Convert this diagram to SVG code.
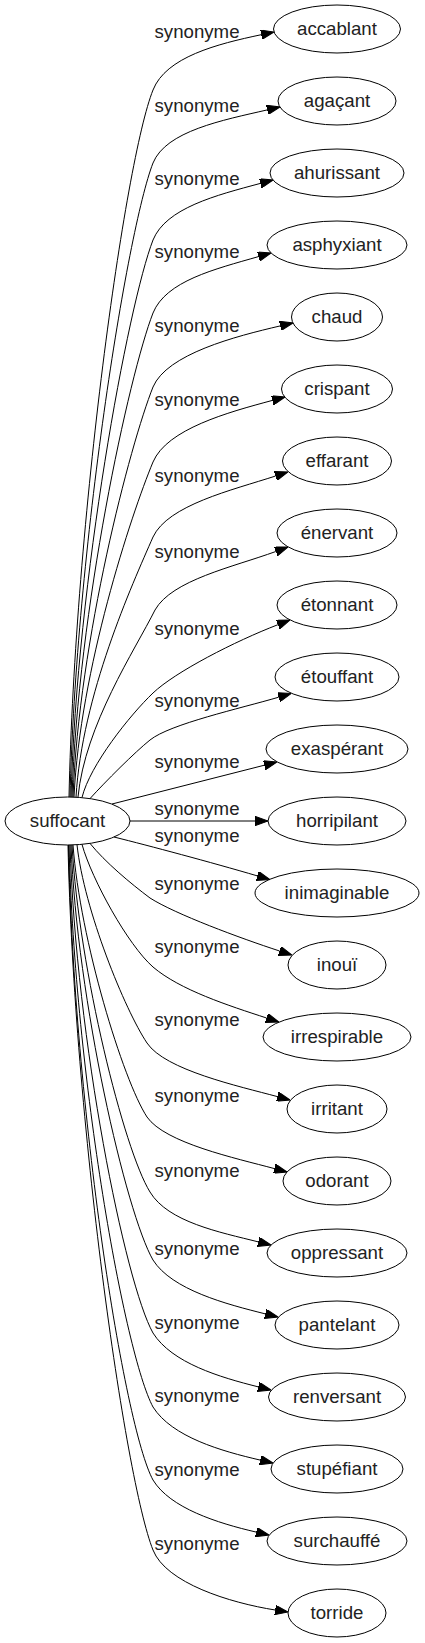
<svg xmlns="http://www.w3.org/2000/svg" width="425" height="1643" viewBox="0 0 425 1643">
<style>
  .bg { fill: #ffffff; }
  .node ellipse { fill: none; stroke: #000; stroke-width: 1; }
  .node text { font-family: "Liberation Sans", Arial, sans-serif; font-size: 18.67px; fill: #222; text-anchor: middle; }
  .edges path { fill: none; stroke: #000; stroke-width: 1; marker-end: url(#arr); }
  .lbl text { font-family: "Liberation Sans", Arial, sans-serif; font-size: 18.67px; fill: #222; text-anchor: middle; }
</style>
<defs>
  <marker id="arr" markerUnits="userSpaceOnUse" markerWidth="13" markerHeight="9.4" viewBox="0 0 13 9.4" refX="0" refY="4.7" orient="auto">
    <path d="M0,0 L13,4.7 L0,9.4 z" fill="#000" stroke="#000" stroke-width="1"/>
  </marker>
</defs>
<rect class="bg" x="0" y="0" width="425" height="1643"/>

<g id="connectors" class="edges">
  <path d="M69,797 C75,520 125,160 153,90 C166,57 217,44 261.3,34.7"/>
  <path d="M70,797 C76,550 127,230 153,163 C166,131 222.5,120.2 267.3,109.9"/>
  <path d="M71,797 C77,580 128,305 153,240 C166,208 216,195.3 260.4,183.4"/>
  <path d="M72,797 C78,610 129,375 153,313 C166,281 214.3,269.3 258.5,256.6"/>
  <path d="M73,797 C79,640 130,445 153,387 C167,354 235.5,336.3 280.3,325.9"/>
  <path d="M74,797 C80,670 131,515 153,462 C167,429 228,412.3 272.4,400.4"/>
  <path d="M76,797 C82,695 132,585 153,537 C168,505 231.9,490.2 275.6,476"/>
  <path d="M78,797 C85,725 135,650 155,610 C172,580 232.6,567.2 275.8,551.5"/>
  <path d="M82,797.5 C90,765 130,715 153,693 C175,672 235,641.2 277.9,624.7"/>
  <path d="M90,798.6 C105,782 135,752 150,740 C170,724 240,708.5 278.7,697.2"/>
  <path d="M112,804 L264.4,765.2"/>
  <path d="M130,821 L255,821"/>
  <path d="M114,837 C150,846 210,862 257.4,875.9"/>
  <path d="M90,843.4 C105,862 130,883 150,898 C175,914 240,938.1 279.6,951"/>
  <path d="M82,844.4 C92,880 128,945 153,967 C180,990 228.6,1005.6 266.6,1018"/>
  <path d="M77,844.7 C84,910 125,1010 147,1043 C165,1070 238.8,1086.2 277.4,1096.6"/>
  <path d="M73,844.9 C80,940 123,1080 147,1117 C165,1143 235.8,1158.2 274.4,1168.6"/>
  <path d="M72,845 C79,970 124,1150 150,1192 C168,1222 219.6,1232.2 258.4,1241.9"/>
  <path d="M71,845 C77,1000 126,1213 153,1260 C172,1290 226.6,1304.2 265.4,1313.9"/>
  <path d="M70,845 C76,1040 125,1283 153,1333 C172,1363 219.6,1377.2 258.4,1386.9"/>
  <path d="M69,845 C75,1080 125,1355 153,1407 C172,1437 221.3,1451.1 260.3,1460.1"/>
  <path d="M68.5,845 C74,1110 124,1427 153,1480 C170,1508 217.3,1523.1 256.3,1532.1"/>
  <path d="M68,845 C74,1120 125,1480 153,1550 C166,1583 229.7,1602.8 275.2,1610"/>
</g>

<g id="edge-labels" class="lbl">
  <text x="197" y="38">synonyme</text>
  <text x="197" y="112">synonyme</text>
  <text x="197" y="185">synonyme</text>
  <text x="197" y="258">synonyme</text>
  <text x="197" y="332">synonyme</text>
  <text x="197" y="406">synonyme</text>
  <text x="197" y="482">synonyme</text>
  <text x="197" y="558">synonyme</text>
  <text x="197" y="635">synonyme</text>
  <text x="197" y="707">synonyme</text>
  <text x="197" y="768">synonyme</text>
  <text x="197" y="815">synonyme</text>
  <text x="197" y="842">synonyme</text>
  <text x="197" y="890">synonyme</text>
  <text x="197" y="953">synonyme</text>
  <text x="197" y="1026">synonyme</text>
  <text x="197" y="1102">synonyme</text>
  <text x="197" y="1177">synonyme</text>
  <text x="197" y="1255">synonyme</text>
  <text x="197" y="1329">synonyme</text>
  <text x="197" y="1402">synonyme</text>
  <text x="197" y="1476">synonyme</text>
  <text x="197" y="1550">synonyme</text>
</g>

<g id="node-suffocant" class="node"><ellipse cx="67.5" cy="821" rx="62.5" ry="24"/><text x="67.5" y="827">suffocant</text></g>
<g id="node-accablant" class="node"><ellipse cx="337" cy="29" rx="63.5" ry="24"/><text x="337" y="35">accablant</text></g>
<g id="node-agacant" class="node"><ellipse cx="337" cy="101" rx="59" ry="24"/><text x="337" y="107">agaçant</text></g>
<g id="node-ahurissant" class="node"><ellipse cx="337" cy="173" rx="67" ry="24"/><text x="337" y="179">ahurissant</text></g>
<g id="node-asphyxiant" class="node"><ellipse cx="337" cy="245" rx="70" ry="24"/><text x="337" y="251">asphyxiant</text></g>
<g id="node-chaud" class="node"><ellipse cx="337" cy="317" rx="45.5" ry="24"/><text x="337" y="323">chaud</text></g>
<g id="node-crispant" class="node"><ellipse cx="337" cy="389" rx="55.5" ry="24"/><text x="337" y="395">crispant</text></g>
<g id="node-effarant" class="node"><ellipse cx="337" cy="461" rx="54.5" ry="24"/><text x="337" y="467">effarant</text></g>
<g id="node-enervant" class="node"><ellipse cx="337" cy="533" rx="60" ry="24"/><text x="337" y="539">énervant</text></g>
<g id="node-etonnant" class="node"><ellipse cx="337" cy="605" rx="60" ry="24"/><text x="337" y="611">étonnant</text></g>
<g id="node-etouffant" class="node"><ellipse cx="337" cy="677" rx="62" ry="24"/><text x="337" y="683">étouffant</text></g>
<g id="node-exasperant" class="node"><ellipse cx="337" cy="749" rx="71" ry="24"/><text x="337" y="755">exaspérant</text></g>
<g id="node-horripilant" class="node"><ellipse cx="337" cy="821" rx="69" ry="24"/><text x="337" y="827">horripilant</text></g>
<g id="node-inimaginable" class="node"><ellipse cx="337" cy="893" rx="82" ry="24"/><text x="337" y="899">inimaginable</text></g>
<g id="node-inoui" class="node"><ellipse cx="337" cy="965" rx="49" ry="24"/><text x="337" y="971">inouï</text></g>
<g id="node-irrespirable" class="node"><ellipse cx="337" cy="1037" rx="74" ry="24"/><text x="337" y="1043">irrespirable</text></g>
<g id="node-irritant" class="node"><ellipse cx="337" cy="1109" rx="50" ry="24"/><text x="337" y="1115">irritant</text></g>
<g id="node-odorant" class="node"><ellipse cx="337" cy="1181" rx="54" ry="24"/><text x="337" y="1187">odorant</text></g>
<g id="node-oppressant" class="node"><ellipse cx="337" cy="1253" rx="70" ry="24"/><text x="337" y="1259">oppressant</text></g>
<g id="node-pantelant" class="node"><ellipse cx="337" cy="1325" rx="62" ry="24"/><text x="337" y="1331">pantelant</text></g>
<g id="node-renversant" class="node"><ellipse cx="337" cy="1397" rx="68.5" ry="24"/><text x="337" y="1403">renversant</text></g>
<g id="node-stupefiant" class="node"><ellipse cx="337" cy="1469" rx="66" ry="24"/><text x="337" y="1475">stupéfiant</text></g>
<g id="node-surchauffe" class="node"><ellipse cx="337" cy="1541" rx="70" ry="24"/><text x="337" y="1547">surchauffé</text></g>
<g id="node-torride" class="node"><ellipse cx="337" cy="1613" rx="49" ry="24"/><text x="337" y="1619">torride</text></g>
</svg>
